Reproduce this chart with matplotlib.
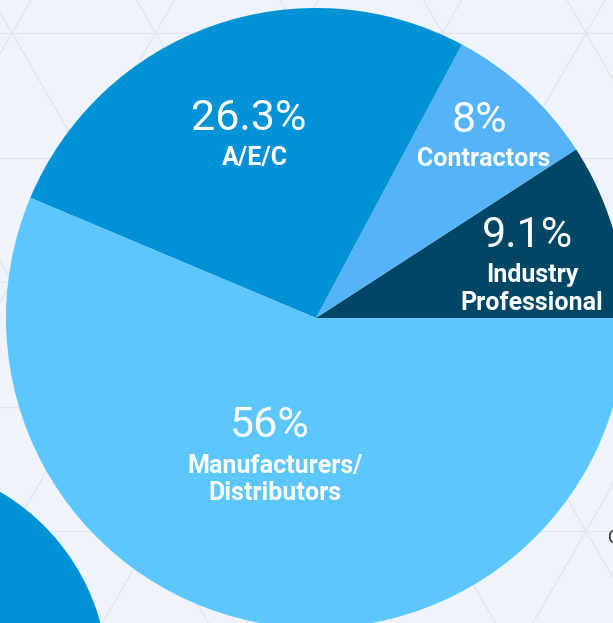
import matplotlib.pyplot as plt
from matplotlib.patches import Circle
import numpy as np

# ── Data ──────────────────────────────────────────────────────────────────────
categories = ["Industry\nProfessional", "Contractors", "A/E/C", "Manufacturers/\nDistributors"]
shares = [9.1, 8.0, 26.3, 56.0]
colors = ["#004766", "#55B4F8", "#0092D6", "#5BC6FF"]

W, H = 613, 623
BG = "#EFF3FB"

fig = plt.figure(figsize=(W / 100, H / 100), dpi=100, facecolor=BG)
ax = fig.add_axes([0, 0, 1, 1])
ax.set_facecolor(BG)


def py(y):
    """Pixel row (from top) -> data y."""
    return H - y


# ── Faint triangular background grid ──────────────────────────────────────────
row_h, side, x0, y0 = 124.5, 143.5, 12, 33
grid_kw = dict(color="#E0E4EB", lw=0.9, zorder=0)
for k in range(-2, 8):
    ax.plot([0, W], [py(y0 + k * row_h)] * 2, **grid_kw)
slope = row_h / (side / 2)
for n in range(-10, 14):
    xv = x0 + n * side
    for s in (1, -1):
        xs = np.array([xv - 800, xv + 800])
        ys = y0 + s * slope * (xs - xv)
        ax.plot(xs, py(ys), **grid_kw)

# ── Decorative circle bottom-left ─────────────────────────────────────────────
ax.add_patch(Circle((-110, py(680)), 218, color="#0092D6", lw=0, zorder=1))

# ── Pie ───────────────────────────────────────────────────────────────────────
cx, cy, r = 316, py(318), 310
ax.pie(shares, colors=colors, startangle=0, counterclock=True,
       center=(cx, cy), radius=r, frame=True,
       wedgeprops=dict(linewidth=0, zorder=2))
ax.set_xlim(0, W)
ax.set_ylim(0, H)
ax.set_aspect("equal")
ax.set_axis_off()

# ── Labels ────────────────────────────────────────────────────────────────────
# (value x, value baseline, name x, first name baseline, line gap)
label_pos = [
    (527, 247, 532, 282, 28),
    (479, 132, 484, 166, 0),
    (249, 130, 255, 165, 0),
    (270, 437, 275, 473, 27),
]
for name, v, (vx, vb, nx, nb, gap) in zip(categories, shares, label_pos):
    ax.text(vx, py(vb), f"{v:g}%", ha="center", va="baseline",
            family="Roboto", fontweight="normal", fontsize=31,
            color="white", zorder=5)
    for i, line in enumerate(name.split("\n")):
        ax.text(nx, py(nb + i * gap), line, ha="center", va="baseline",
                family="Roboto", fontweight="bold", fontsize=18,
                color="white", zorder=5)

# cut-off text on right edge
ax.text(608, py(543), "C", ha="left", va="baseline", family="Roboto",
        fontsize=13, color="#333333", zorder=3)

fig.savefig("out.png", dpi=100, facecolor=BG)
